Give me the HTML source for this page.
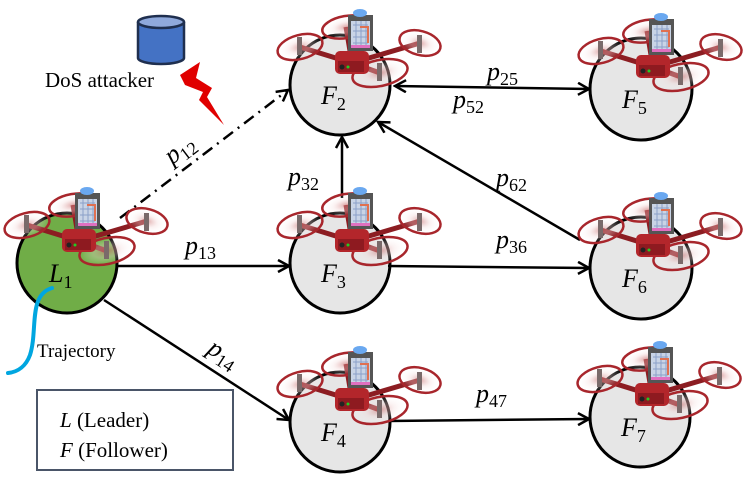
<!DOCTYPE html>
<html><head><meta charset="utf-8"><style>
body{margin:0;background:#fff;}
svg text{font-family:"Liberation Serif",serif;}
.m{font-family:"DejaVu Serif","Liberation Serif",serif;font-style:italic;}
</style></head><body>
<svg width="747" height="489" viewBox="0 0 747 489" xmlns="http://www.w3.org/2000/svg">
<defs>
<marker id="ah" markerWidth="14" markerHeight="14" refX="12" refY="7" orient="auto" markerUnits="userSpaceOnUse">
<path d="M1,1 L12,7 L1,13" fill="none" stroke="#000" stroke-width="2.5"/>
</marker>
<marker id="ahs" markerWidth="14" markerHeight="14" refX="12" refY="7" orient="auto-start-reverse" markerUnits="userSpaceOnUse">
<path d="M1,1 L12,7 L1,13" fill="none" stroke="#000" stroke-width="2.5"/>
</marker>
<radialGradient id="rg"><stop offset="0" stop-color="#c86a6a" stop-opacity="0.6"/><stop offset="0.5" stop-color="#f3d8d8" stop-opacity="0.35"/><stop offset="1" stop-color="#fff" stop-opacity="0"/></radialGradient>
<g id="drone">
<path d="M12,-22 L-40,-38 M12,-22 L6,-58 M12,-22 L80,-42 M12,-22 L40,-12" stroke="#8c1d22" stroke-width="5"/>
<g fill="url(#rg)" stroke="#a8262c" stroke-width="2.5">
<ellipse cx="-40" cy="-38" rx="23" ry="12" transform="rotate(-15 -40 -38)"/>
<ellipse cx="6" cy="-58" rx="24" ry="11" transform="rotate(-10 6 -58)"/>
<ellipse cx="80" cy="-42" rx="21" ry="12" transform="rotate(15 80 -42)"/>
<ellipse cx="40" cy="-12" rx="28" ry="13" transform="rotate(-12 40 -12)"/>
</g>
<rect x="-5" y="-34" width="34" height="23" rx="5" fill="#b3262b"/>
<rect x="-2" y="-24" width="26" height="11" fill="#8e1a20"/>
<circle cx="2" cy="-18" r="2.5" fill="#222"/><circle cx="8" cy="-18" r="1.5" fill="#2c2"/>
<rect x="-43" y="-48" width="5" height="18" fill="#7a6a6a"/>
<rect x="77" y="-50" width="5" height="18" fill="#7a6a6a"/>
<rect x="37" y="-22" width="5" height="18" fill="#7a6a6a"/>
<rect x="8" y="-70" width="25" height="36" fill="#555"/>
<rect x="11" y="-64" width="19" height="26" fill="#c9d4e6"/>
<path d="M13,-60 h15 M13,-54 h15 M13,-48 h15 M13,-42 h15 M16,-64 v26 M21,-64 v26 M26,-64 v26" stroke="#8aa0c8" stroke-width="1"/>
<path d="M20,-58 h8 v16" stroke="#e07050" stroke-width="2" fill="none"/>
<rect x="11" y="-40" width="19" height="3" fill="#e070c0"/>
<ellipse cx="20" cy="-72" rx="7" ry="4" fill="#6aa8f0"/>
</g>
</defs>

<g stroke="#000" stroke-width="3">
<circle cx="67" cy="263" r="50" fill="#70ad47"/>
<circle cx="340" cy="85" r="50" fill="#e6e6e6"/>
<circle cx="641" cy="89" r="51" fill="#e6e6e6"/>
<circle cx="340" cy="263" r="50" fill="#e6e6e6"/>
<circle cx="641" cy="268" r="51" fill="#e6e6e6"/>
<circle cx="340" cy="422" r="50" fill="#e6e6e6"/>
<circle cx="640" cy="417" r="50" fill="#e6e6e6"/>
</g>

<g stroke="#000" stroke-width="2.5" fill="none">
<line x1="117" y1="266" x2="289" y2="266" marker-end="url(#ah)"/>
<line x1="104" y1="300" x2="289" y2="420" marker-end="url(#ah)"/>
<line x1="342" y1="198" x2="342" y2="137" marker-end="url(#ah)"/>
<line x1="388" y1="266" x2="589" y2="268" marker-end="url(#ah)"/>
<line x1="388" y1="421" x2="589" y2="419" marker-end="url(#ah)"/>
<line x1="395" y1="86" x2="589" y2="89" marker-start="url(#ahs)" marker-end="url(#ah)"/>
<line x1="580" y1="240" x2="378" y2="122" marker-end="url(#ah)"/>
<line x1="120" y1="218" x2="288" y2="90" stroke-dasharray="12,6,2,6" marker-end="url(#ah)"/>
</g>

<use href="#drone" x="67" y="263"/>
<use href="#drone" x="340" y="85"/>
<use href="#drone" x="641" y="89"/>
<use href="#drone" x="340" y="263"/>
<use href="#drone" x="641" y="268"/>
<use href="#drone" x="340" y="422"/>
<use href="#drone" x="640" y="417"/>

<g class="m" font-size="26">
<text x="49" y="282">L<tspan font-style="normal" font-size="18" dy="6">1</tspan></text>
<text x="321" y="104">F<tspan font-style="normal" font-size="18" dy="6">2</tspan></text>
<text x="622" y="108">F<tspan font-style="normal" font-size="18" dy="6">5</tspan></text>
<text x="321" y="282">F<tspan font-style="normal" font-size="18" dy="6">3</tspan></text>
<text x="622" y="287">F<tspan font-style="normal" font-size="18" dy="6">6</tspan></text>
<text x="321" y="441">F<tspan font-style="normal" font-size="18" dy="6">4</tspan></text>
<text x="621" y="436">F<tspan font-style="normal" font-size="18" dy="6">7</tspan></text>
</g>
<g class="m" font-size="26">
<text x="185" y="254">p<tspan font-style="normal" font-size="18" dy="5">13</tspan></text>
<text x="288" y="185">p<tspan font-style="normal" font-size="18" dy="5">32</tspan></text>
<text x="487" y="80">p<tspan font-style="normal" font-size="18" dy="5">25</tspan></text>
<text x="453" y="108">p<tspan font-style="normal" font-size="18" dy="5">52</tspan></text>
<text x="496" y="186">p<tspan font-style="normal" font-size="18" dy="5">62</tspan></text>
<text x="496" y="248">p<tspan font-style="normal" font-size="18" dy="5">36</tspan></text>
<text x="476" y="402">p<tspan font-style="normal" font-size="18" dy="5">47</tspan></text>
<text transform="translate(172,165) rotate(-37)">p<tspan font-style="normal" font-size="18" dy="5">12</tspan></text>
<text transform="translate(206,352) rotate(33)">p<tspan font-style="normal" font-size="18" dy="5">14</tspan></text>
</g>

<path d="M138,22 v36 a23,6 0 0 0 46,0 v-36" fill="#4472c4" stroke="#1f2f4f" stroke-width="2.5"/>
<ellipse cx="161" cy="22" rx="23" ry="6" fill="#8fa9dc" stroke="#1f2f4f" stroke-width="2.5"/>
<text x="45" y="87" font-size="21">DoS attacker</text>
<path d="M180,75 L200,62 L196,78 L212,88 L207,97 L224,125 L199,100 L203,92 L185,85 Z" fill="#e00000"/>

<path d="M52,288 C28,295 38,330 30,355 C26,366 18,372 8,373" fill="none" stroke="#00a6e0" stroke-width="4" stroke-linecap="round"/>
<text x="37" y="357" font-size="19">Trajectory</text>

<rect x="37" y="390" width="196" height="80" fill="#fff" stroke="#4a5568" stroke-width="2"/>
<text x="60" y="427" font-size="21"><tspan font-style="italic">L</tspan> (Leader)</text>
<text x="60" y="457" font-size="21"><tspan font-style="italic">F</tspan> (Follower)</text>
</svg>
</body></html>
